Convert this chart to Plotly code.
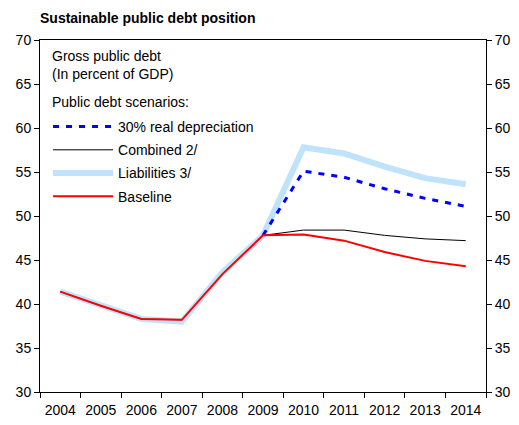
import plotly.graph_objects as go

years = ["2004", "2005", "2006", "2007", "2008", "2009", "2010", "2011", "2012", "2013", "2014"]
baseline = [41.4, 39.8, 38.3, 38.2, 43.4, 47.8, 47.9, 47.2, 45.9, 44.9, 44.3]
combined = [41.4, 39.8, 38.3, 38.2, 43.4, 47.8, 48.4, 48.4, 47.8, 47.4, 47.2]
liabilities = [41.4, 39.8, 38.3, 38.0, 43.6, 47.8, 57.8, 57.1, 55.6, 54.3, 53.6]
depreciation = [None, None, None, None, None, 47.8, 55.1, 54.4, 53.1, 52.0, 51.1]

font_family = "Liberation Sans, Arial, sans-serif"

fig = go.Figure()
fig.add_trace(go.Scatter(x=years, y=liabilities, mode="lines", name="Liabilities 3/",
                         line=dict(color="#BFE3FA", width=6), legendrank=3, legendgroup="c"))
fig.add_trace(go.Scatter(x=years, y=combined, mode="lines", name="Combined 2/",
                         line=dict(color="#000000", width=1), legendrank=2, legendgroup="b"))
fig.add_trace(go.Scatter(x=years, y=depreciation, mode="lines", name="30% real depreciation",
                         line=dict(color="#0000FF", width=3, dash="6px,7px"), legendrank=1,
                         legendgroup="a"))
fig.add_trace(go.Scatter(x=years, y=baseline, mode="lines", name="Baseline",
                         line=dict(color="#FF0000", width=2), legendrank=4, legendgroup="d"))
# invisible trace to create right axis
fig.add_trace(go.Scatter(x=years, y=baseline, mode="lines", yaxis="y2", showlegend=False,
                         line=dict(color="rgba(0,0,0,0)"), hoverinfo="skip"))

fig.update_layout(
    width=519, height=425,
    margin=dict(l=40, r=33, t=40, b=33),
    paper_bgcolor="white", plot_bgcolor="white",
    font=dict(family=font_family, size=14, color="#000000"),
    title=dict(text="<b>Sustainable public debt position</b>", x=40/519, xanchor="left",
               y=1 - 18/425, yanchor="middle", font=dict(size=14)),
    xaxis=dict(type="category", range=[-0.5, 10.5], showline=True, linecolor="black", linewidth=1,
               mirror=True, ticks="outside", tickson="boundaries", ticklen=5, tickcolor="black",
               showgrid=False, tickfont=dict(size=14), tickangle=0, automargin=False,
               ticklabelstandoff=5),
    yaxis=dict(range=[30, 70], dtick=5, showline=True, linecolor="black", linewidth=1,
               mirror=True, ticks="outside", ticklen=5, tickcolor="black", showgrid=False,
               zeroline=False, tickfont=dict(size=14), automargin=False),
    yaxis2=dict(range=[30, 70], dtick=5, overlaying="y", side="right", showline=False,
                ticks="outside", ticklen=5, tickcolor="black", showgrid=False, zeroline=False,
                tickfont=dict(size=14), automargin=False),
    legend=dict(x=0.018, y=(392 - 111) / 352, xanchor="left", yanchor="top",
                bgcolor="rgba(0,0,0,0)", borderwidth=0, font=dict(size=14),
                tracegroupgap=2, itemwidth=60),
    showlegend=True,
)

fig.add_annotation(text="Gross public debt<br>(In percent of GDP)", xref="paper", yref="paper",
                   x=10/446, y=(392 - 46) / 352, xanchor="left", yanchor="top", showarrow=False,
                   align="left", font=dict(size=14))
fig.add_annotation(text="Public debt scenarios:", xref="paper", yref="paper",
                   x=10/446, y=(392 - 102) / 352, xanchor="left", yanchor="middle", showarrow=False,
                   align="left", font=dict(size=14))

fig.write_html("out.html", config={"displayModeBar": False},
               post_script="document.body.style.margin='0';")
